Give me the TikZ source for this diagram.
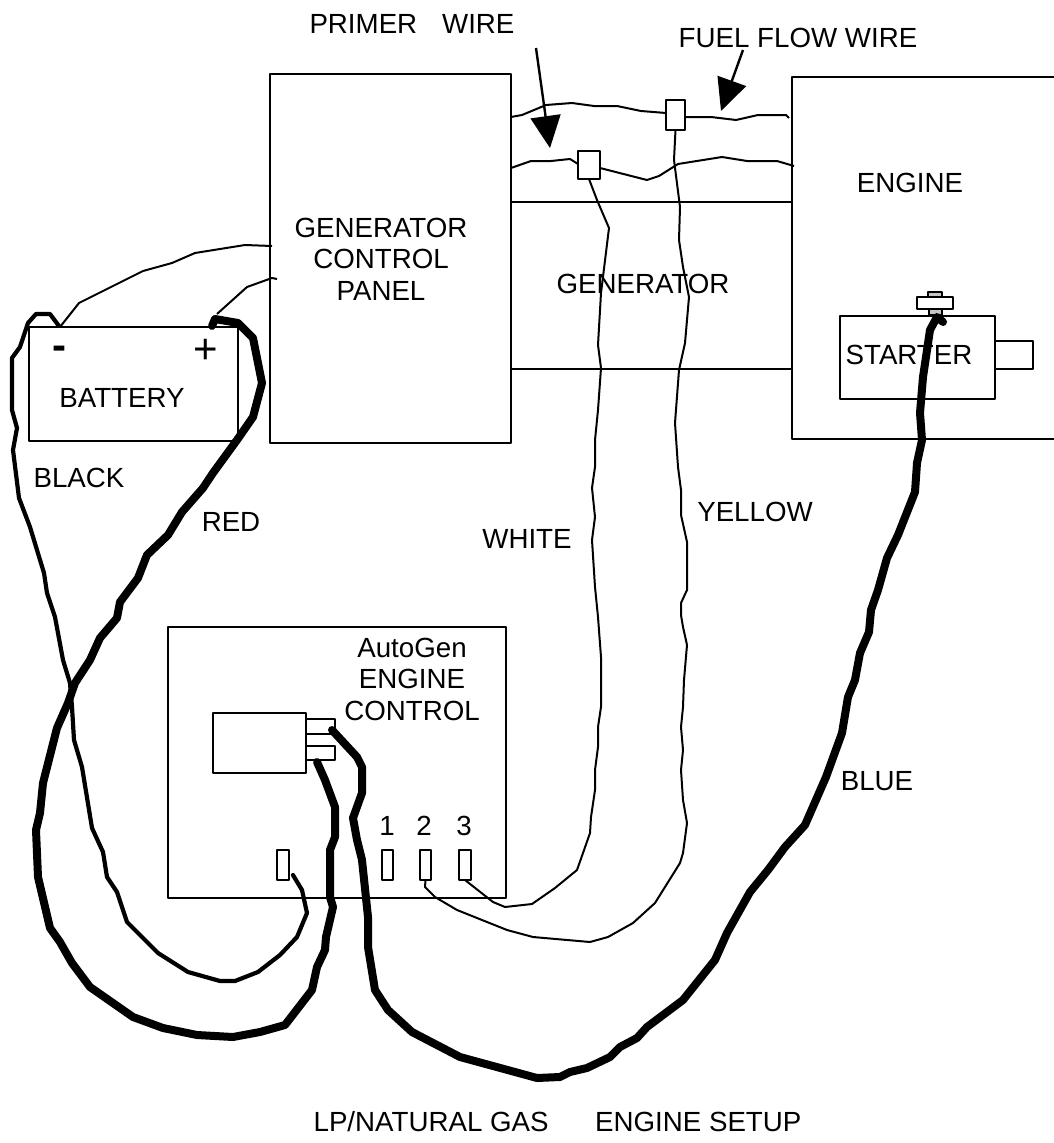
\documentclass[tikz,border=0pt]{standalone}
\usepackage{fontspec}
\setmainfont{Liberation Sans}
\usetikzlibrary{arrows.meta}

\begin{document}
\begin{tikzpicture}[x=1pt,y=-1pt,line join=round,
	box/.style={draw,line width=2.2pt,inner sep=0pt,outer sep=0pt},
	lbl/.style={font=\fontsize{27.7}{32}\selectfont,align=center,inner sep=0pt},
	thinwire/.style={line width=2pt},
	midwire/.style={line width=4.2pt,line cap=round},
	fatwire/.style={line width=8pt,line cap=round},
	pointer/.style={line width=2.4pt,-{Triangle[length=32pt,width=30pt]}}]
		\useasboundingbox (0,0) rectangle (1054,1143);
		% boxes
		\node[box,minimum width=241pt,minimum height=369pt] (panel) at (390.5,258.5) {};
		\node[box,minimum width=209pt,minimum height=114pt] (battery) at (133.5,384) {};
		\node[box,minimum width=338pt,minimum height=271pt] (control) at (337,762.5) {};
		\draw[line width=2.2pt] (1054,77) -- (792,77) -- (792,439) -- (1054,439);
		\coordinate (engleft) at (792,202);
		\coordinate (englow) at (792,369);
		\draw[line width=2.2pt] (panel.east |- engleft) -- (engleft);
		\draw[line width=2.2pt] (panel.east |- englow) -- (englow);
		\node[box,minimum width=155pt,minimum height=83pt] (starter) at (917.5,357.5) {};
		\node[box,anchor=west,minimum width=38pt,minimum height=28pt] (shaft) at (995,355) {};
		\node[box,line width=1.2pt,fill=gray!45,minimum width=14pt,minimum height=5pt] (bolttop) at (935,294.5) {};
		\node[box,fill=gray!45,minimum width=13pt,minimum height=7pt] (boltlow) at (935.5,312) {};
		\node[box,fill=white,minimum width=36pt,minimum height=12pt] (bolt) at (935,303) {};
		\node[box,minimum width=93pt,minimum height=60pt] (relay) at (259.5,743) {};
		\node[box,minimum width=29pt,minimum height=15pt] (tabup) at (320.5,726.5) {};
		\node[box,minimum width=29pt,minimum height=14pt] (tablow) at (320.5,753) {};
		\node[box,minimum width=12pt,minimum height=30pt] (termgnd) at (283,865) {};
		\node[box,minimum width=11pt,minimum height=30pt] (termone) at (387.5,865) {};
		\node[box,minimum width=11pt,minimum height=30pt] (termtwo) at (425.5,865) {};
		\node[box,minimum width=12pt,minimum height=30pt] (termthree) at (465,865) {};
		\node[box,minimum width=19pt,minimum height=30pt] (fuelconn) at (675.5,115) {};
		\node[box,minimum width=22pt,minimum height=28pt] (primerconn) at (589,165) {};
		% labels
		\node[lbl] (primerlbl) at (412,24) {PRIMER\hspace{0.9em}WIRE};
		\node[lbl] (fuellbl) at (798,38) {FUEL FLOW WIRE};
		\node[lbl] (panellbl) at (381,259) {GENERATOR\\[-0.5pt]CONTROL\\[-0.5pt]PANEL};
		\node[lbl] (genlbl) at (643,284) {GENERATOR};
		\node[lbl] (englbl) at (910,183) {ENGINE};
		\node[lbl] (startlbl) at (909,355) {STARTER};
		\node[lbl] (batlbl) at (122,398) {BATTERY};
		\node[lbl] (minuslbl) at (59,353) {\fontsize{42}{42}\selectfont\textbf{-}};
		\node[lbl] (pluslbl) at (206,351) {\fontsize{42}{42}\selectfont +};
		\node[lbl] (blacklbl) at (79,478) {BLACK};
		\node[lbl] (redlbl) at (231,522) {RED};
		\node[lbl] (whitelbl) at (527,539) {WHITE};
		\node[lbl] (yellowlbl) at (755,512) {YELLOW};
		\node[lbl] (bluelbl) at (877,781) {BLUE};
		\node[lbl] (autolbl) at (412,679) {AutoGen\\[-0.5pt]ENGINE\\[-0.5pt]CONTROL};
		\node[lbl] (onelbl) at (387,826) {1};
		\node[lbl] (twolbl) at (424,826) {2};
		\node[lbl] (threelbl) at (464,826) {3};
		\node[lbl] (titlelbl) at (557.5,1122) {LP/NATURAL GAS\hspace{1.68em}ENGINE SETUP};
		% pointers
		\coordinate (primertail) at (536,48);
		\coordinate (primertip) at (550,148);
		\coordinate (fueltail) at (743,50);
		\coordinate (fueltip) at (721,111);
		\draw[pointer] (primertail) -- (primertip);
		\draw[pointer] (fueltail) -- (fueltip);
		% thin wires
		\draw[thinwire] (panel.east |- 0,117) -- (522,115) -- (546,105) -- (572,103) -- (594,106) -- (617,106)
			-- (641,111) -- (fuelconn.west |- 0,113);
		\draw[thinwire] (fuelconn.east |- 0,117) -- (711,117) -- (736,120) -- (758,115) -- (786,115) -- (789,118);
		\draw[thinwire] (panel.east |- 0,168) -- (531,161) -- (551,161) -- (570,159) -- (primerconn.west |- 0,164);
		\draw[thinwire] (primerconn.east |- 0,168) -- (647,180) -- (659,176) -- (678,164) -- (722,157) -- (747,161)
			-- (777,161) -- (794,166);
		\draw[thinwire] (primerconn.south) -- (597,200) -- (609,228) -- (601,293) -- (598,345) -- (601,368)
			-- (598,410) -- (595,440) -- (595,467) -- (592,488) -- (595,517) -- (592,540) -- (595,587)
			-- (598,617) -- (601,657) -- (601,707) -- (598,727) -- (598,747) -- (595,770) -- (595,790)
			-- (591,817) -- (590,833) -- (583,853) -- (577,870) -- (555,888) -- (532,904) -- (505,907)
			-- (493,902) -- (termthree.south);
		\draw[thinwire] (fuelconn.south) -- (674,160) -- (680,207) -- (679,240) -- (683,267) -- (689,297)
			-- (685,343) -- (679,370) -- (675,423) -- (678,467) -- (681,490) -- (681,515) -- (687,542)
			-- (687,590) -- (681,603) -- (681,615) -- (683,627) -- (687,645) -- (684,680) -- (683,707)
			-- (681,727) -- (683,750) -- (681,770) -- (683,800) -- (687,823) -- (683,853) -- (680,863)
			-- (655,903) -- (633,923) -- (608,937) -- (590,942) -- (533,937) -- (507,930) -- (457,910)
			-- (435,897) -- (425,887) -- (termtwo.south);
		\draw[thinwire] (60,327) -- (79,303) -- (143,271) -- (172,263) -- (195,253) -- (245,245) -- (272,246);
		\draw[thinwire] (217,314) -- (247,287) -- (272,278) -- (277,279);
		% black wire
		\draw[midwire] (59,326) -- (50,314) -- (36,314) -- (28,323) -- (20,347) -- (12,358) -- (12,410)
			-- (17,428) -- (13,450) -- (19,498) -- (30,527) -- (44,573) -- (47,593) -- (55,617) -- (63,660)
			-- (70,683) -- (72,707) -- (74,740) -- (82,767) -- (92,828) -- (103,852) -- (107,877) -- (117,892)
			-- (127,922) -- (158,953) -- (188,972) -- (220,981) -- (235,981) -- (258,972) -- (280,955)
			-- (297,937) -- (307,913) -- (302,890) -- (293,875);
		% red wire
		\draw[fatwire] (212,326) -- (215,319) -- (238,323) -- (253,338) -- (262,383) -- (253,417)
			-- (237,440) -- (213,473) -- (203,488) -- (182,512) -- (168,535) -- (147,555) -- (138,578)
			-- (120,602) -- (117,618) -- (100,638) -- (90,660) -- (75,683) -- (68,703) -- (57,728)
			-- (43,783) -- (40,813) -- (36,830) -- (38,877) -- (50,928) -- (60,942) -- (72,963) -- (90,987)
			-- (133,1017) -- (163,1028) -- (197,1035) -- (233,1037) -- (260,1032) -- (285,1025) -- (312,990)
			-- (317,967) -- (325,950) -- (326,937) -- (333,907) -- (330,897) -- (330,850) -- (335,837)
			-- (335,807) -- (325,780) -- (317,762);
		% blue wire
		\draw[fatwire] (332,730) -- (357,757) -- (362,767) -- (362,793) -- (353,818) -- (357,840)
			-- (362,860) -- (368,917) -- (368,947) -- (375,990) -- (388,1010) -- (412,1032) -- (460,1057)
			-- (537,1078) -- (560,1077) -- (570,1072) -- (587,1068) -- (610,1057) -- (620,1047)
			-- (637,1038) -- (647,1027) -- (683,1000) -- (715,960) -- (727,933) -- (750,892) -- (768,870)
			-- (785,847) -- (805,825) -- (826,777) -- (842,733) -- (848,697) -- (855,680) -- (860,653)
			-- (869,632) -- (871,610) -- (878,590) -- (887,558) -- (898,535) -- (915,492) -- (917,463)
			-- (922,440) -- (920,413) -- (923,377) -- (930,330) -- (937,317) -- (943,322);
\end{tikzpicture}
\end{document}
